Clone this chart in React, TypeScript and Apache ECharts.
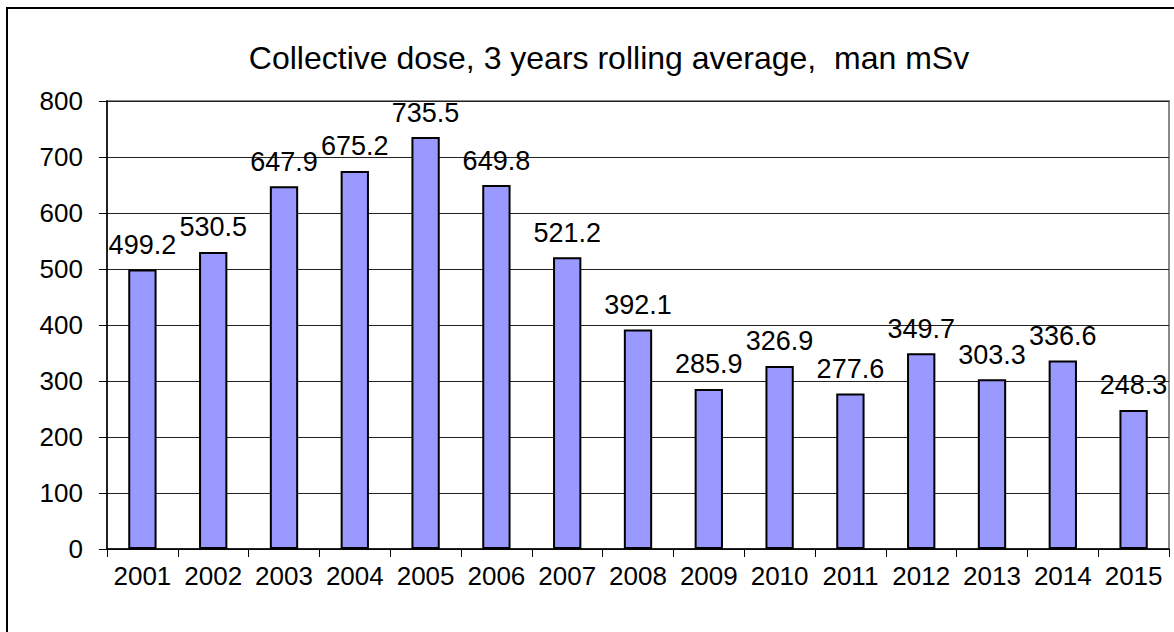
import React, { useEffect, useRef } from "react";
import * as echarts from "echarts";

const years = ["2001", "2002", "2003", "2004", "2005", "2006", "2007", "2008", "2009", "2010", "2011", "2012", "2013", "2014", "2015"];
const doses = [499.2, 530.5, 647.9, 675.2, 735.5, 649.8, 521.2, 392.1, 285.9, 326.9, 277.6, 349.7, 303.3, 336.6, 248.3];
const titleText = "Collective dose, 3 years rolling average,  man mSv";

const FONT = "'Liberation Sans', Arial, sans-serif";

export default function App() {
  const ref = useRef<HTMLDivElement>(null);
  useEffect(() => {
    if (!ref.current) return;
    const chart = echarts.init(ref.current, undefined, { renderer: "svg" });
    chart.setOption({
      animation: false,
      backgroundColor: "#fff",
      title: {
        text: titleText,
        left: 604,
        top: 37,
        textAlign: "center",
        textStyle: { fontFamily: FONT, fontSize: 32, fontWeight: "normal", color: "#000" },
      },
      grid: {
        left: 107,
        top: 101,
        right: 5,
        bottom: 83,
        show: true,
        borderColor: "#888",
        borderWidth: 2,
      },
      xAxis: {
        type: "category",
        data: years,
        axisLine: { lineStyle: { color: "#000", width: 1.5 } },
        axisTick: { show: true, length: 8, inside: false, alignWithLabel: false, lineStyle: { color: "#000" } },
        axisLabel: { fontFamily: FONT, fontSize: 26, color: "#000", margin: 14, interval: 0 },
      },
      yAxis: {
        type: "value",
        min: 0,
        max: 800,
        interval: 100,
        axisLine: { show: true, lineStyle: { color: "#000", width: 1.5 } },
        axisTick: { show: true, length: 8, lineStyle: { color: "#000" } },
        axisLabel: { fontFamily: FONT, fontSize: 26, color: "#000", margin: 24 },
        splitLine: { show: true, lineStyle: { color: "#222", width: 1 } },
      },
      graphic: [
        {
          type: "polyline",
          shape: { points: [[7, 700], [7, 8], [1200, 8]] },
          style: { stroke: "#000", lineWidth: 2, fill: "none" },
          silent: true,
        },
      ],
      series: [
        {
          type: "bar",
          data: doses,
          barWidth: "40%",
          itemStyle: { color: "#9999FF", borderColor: "#000", borderWidth: 2 },
          label: {
            show: true,
            position: "top",
            distance: 11,
            fontFamily: FONT,
            fontSize: 27,
            color: "#000",
          },
        },
      ],
    });
    return () => chart.dispose();
  }, []);
  return (
    <div
      ref={ref}
      style={{ position: "absolute", left: 0, top: 0, width: 1174, height: 632 }}
    />
  );
}
